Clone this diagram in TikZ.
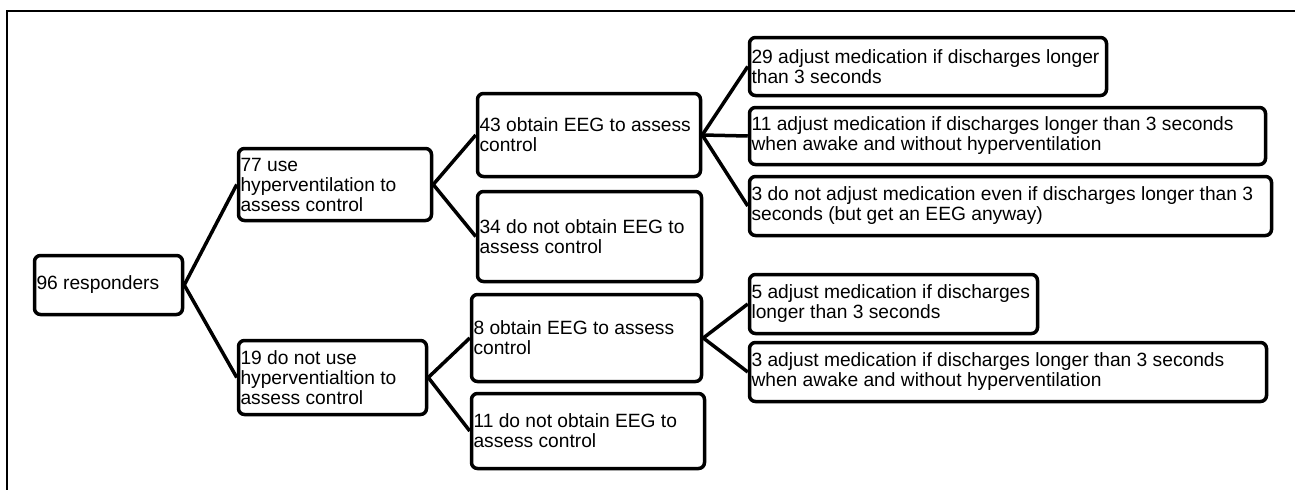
\documentclass[tikz,border=0pt]{standalone}
\usepackage{fontspec}
\setmainfont{Liberation Sans}

\begin{document}
\begin{tikzpicture}[x=1pt,y=-1pt,
  box/.style={draw, line width=3.5pt, rounded corners=6pt, align=flush left,
    inner xsep=2pt, inner ysep=0pt, font=\fontsize{19.2}{20}\selectfont},
  link/.style={line width=3.5pt}]
\useasboundingbox (0,0) rectangle (1295,490);
% Draw the frame (left and top edges)
\draw[line width=2.2pt] (1295,11) -- (7,11) -- (7,490);
% Draw the boxes, one column at a time
\node[box, text width=144pt, minimum height=59pt] (resp) at (108.5,285) {96 responders};
\node[box, text width=189pt, minimum height=72pt] (usehv) at (335,184.5) {77 use\\hyperventilation to\\assess control};
\node[box, text width=184pt, minimum height=74pt] (nohv) at (332.5,377.5) {19 do not use\\hyperventialtion to\\assess control};
\node[box, text width=219pt, minimum height=83pt] (eegA) at (589,135) {43 obtain EEG to assess\\control};
\node[box, text width=220pt, minimum height=90pt] (noeegA) at (589.5,236.5) {34 do not obtain EEG to\\assess control};
\node[box, text width=226pt, minimum height=87pt] (eegB) at (586.5,338) {8 obtain EEG to assess\\control};
\node[box, text width=229pt, minimum height=75pt] (noeegB) at (588,431) {11 do not obtain EEG to\\assess control};
\node[box, text width=353pt, minimum height=58pt] (adjA) at (928,66.5) {29 adjust medication if discharges longer\\than 3 seconds};
\node[box, text width=512pt, minimum height=57pt] (awakeA) at (1007.5,136) {11 adjust medication if discharges longer than 3 seconds\\when awake and without hyperventilation};
\node[box, text width=518pt, minimum height=59pt] (noadj) at (1010.5,206) {3 do not adjust medication even if discharges longer than 3\\seconds (but get an EEG anyway)};
\node[box, text width=284pt, minimum height=59pt] (adjB) at (893.5,304) {5 adjust medication if discharges\\longer than 3 seconds};
\node[box, text width=513pt, minimum height=59pt] (awakeB) at (1008,372) {3 adjust medication if discharges longer than 3 seconds\\when awake and without hyperventilation};
% Draw the branches
\foreach \a/\b in {resp/usehv, resp/nohv, usehv/eegA, usehv/noeegA, nohv/eegB, nohv/noeegB,
  eegA/adjA, eegA/awakeA, eegA/noadj, eegB/adjB, eegB/awakeB}
  \draw[link] (\a.east) -- (\b.west);
\end{tikzpicture}
\end{document}
